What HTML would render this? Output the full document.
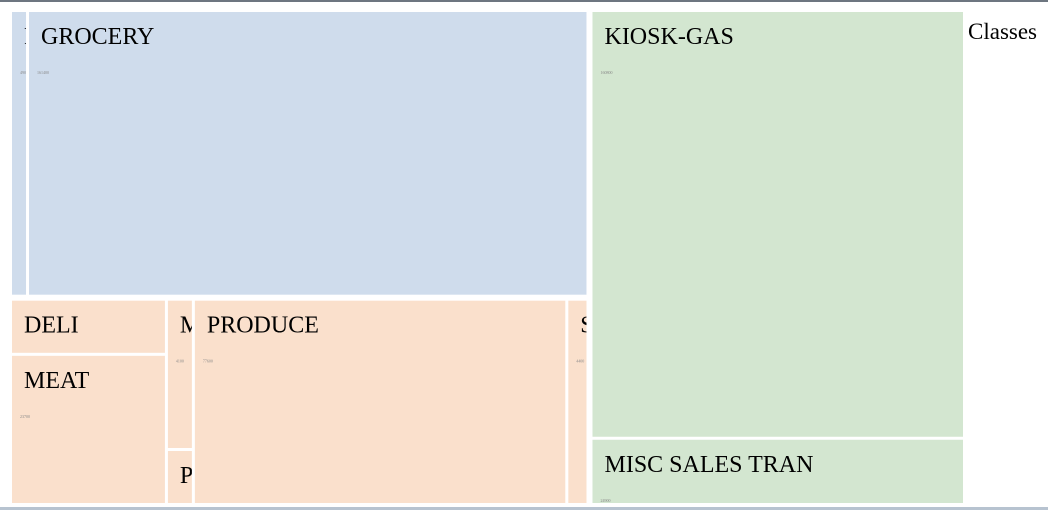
<!DOCTYPE html>
<html><head><meta charset="utf-8">
<style>
html,body{margin:0;padding:0;background:#fff;width:1048px;height:510px;overflow:hidden;}
svg{display:block;font-family:"Liberation Serif",serif;}
</style></head>
<body>
<svg id="chart" width="1048" height="510">
  <rect x="0" y="0" width="1048" height="2" fill="#6d7680"/>
  <rect x="0" y="507" width="1048" height="3" fill="#b7c3d0"/>
  <text x="968" y="39" font-size="23" fill="#000">Classes</text>
  <g id="cells"></g>
</svg>
<script>
const groupNames = ["blue", "orange", "green"];
const groupColors = ["#cfdcec", "#fae0cc", "#d3e6d0"];
const leafLabels = ["PRE", "GROCERY", "DELI", "MEAT", "MISC", "PET", "PRODUCE", "SEAFOOD", "KIOSK-GAS", "MISC SALES TRAN"];
const leafValues = [4.9, 161.4, 8.7, 23.7, 4.1, 1.5, 77.6, 4.4, 160.8, 24.9];
const leafGroup = [0, 0, 1, 1, 1, 1, 1, 1, 2, 2];

// [orientation, children, isColorGroup]
const tree = ["h", [
  ["v", [
    ["h", [0, 1], true],
    ["h", [["v", [2, 3]], ["v", [4, 5]], 6, 7], true]
  ]],
  ["v", [8, 9], true]
]];
const svg = document.getElementById('cells');
const NS = "http://www.w3.org/2000/svg";
function total(n){ return typeof n === "number" ? leafValues[n] : n[1].reduce((s,c)=>s+total(c),0); }
function layout(n, x, y, w, h){
  if (typeof n === "number") { drawLeaf(n, x+1.5, y+1.5, w-3, h-3); return; }
  if (n[2]) { x+=1.5; y+=1.5; w-=3; h-=3; }
  const t = total(n); let off = 0;
  n[1].forEach(c=>{
    const f = total(c)/t;
    if (n[0]==="h") { layout(c, x+off, y, w*f, h); off += w*f; }
    else { layout(c, x, y+off, w, h*f); off += h*f; }
  });
}
function drawLeaf(i, x, y, w, h){
  const g = document.createElementNS(NS, "g");
  
  
  const cid = "clip" + i;
  const cp = document.createElementNS(NS, "clipPath"); cp.setAttribute("id", cid);
  const cr = document.createElementNS(NS, "rect");
  cr.setAttribute("x", x); cr.setAttribute("y", y); cr.setAttribute("width", Math.max(0,w)); cr.setAttribute("height", Math.max(0,h));
  cp.appendChild(cr); g.appendChild(cp);
  const r = document.createElementNS(NS, "rect");
  r.setAttribute("x", x); r.setAttribute("y", y); r.setAttribute("width", Math.max(0,w)); r.setAttribute("height", Math.max(0,h));
  r.setAttribute("fill", groupColors[leafGroup[i]]);
  
  
  g.appendChild(r);
  const tx = document.createElementNS(NS, "text");
  tx.setAttribute("x", x+12); tx.setAttribute("y", y+32);
  tx.setAttribute("font-size", "24"); tx.setAttribute("fill", "#000");
  tx.setAttribute("clip-path", "url(#"+cid+")");
  tx.textContent = leafLabels[i];
  
  
  g.appendChild(tx);
  const v = document.createElementNS(NS, "text");
  v.setAttribute("x", x+8); v.setAttribute("y", y+62);
  v.setAttribute("font-size", "4"); v.setAttribute("fill", "#888");
  v.setAttribute("clip-path", "url(#"+cid+")");
  v.textContent = Math.round(leafValues[i]*1000);
  
  
  g.appendChild(v);
  svg.appendChild(g);
}
layout(tree, 9, 9, 957, 497);
</script>
</body></html>
